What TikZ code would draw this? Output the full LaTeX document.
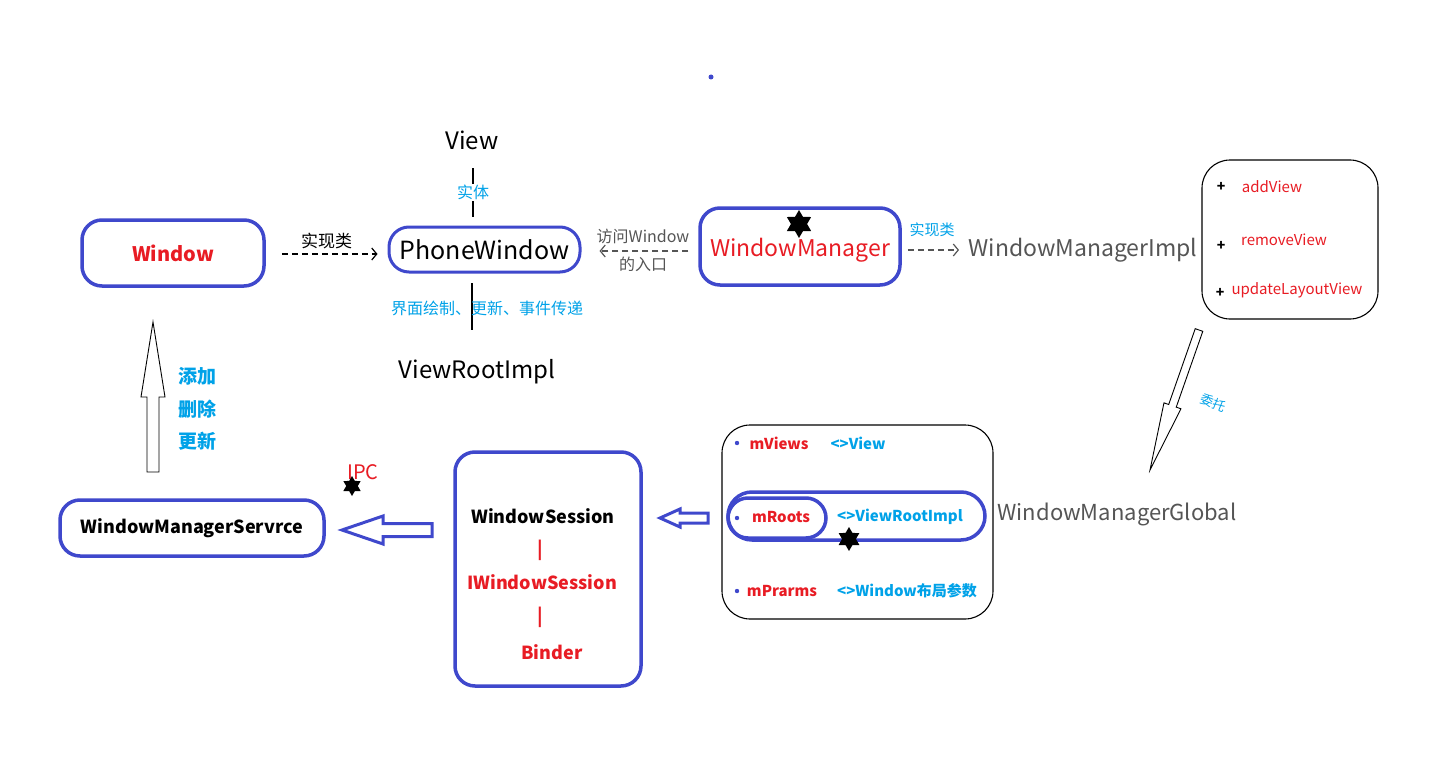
\documentclass[tikz,border=0pt]{standalone}
\usepackage{fontspec}
\setmainfont{Noto Sans CJK SC}
\usetikzlibrary{shapes.geometric,arrows.meta,calc}
\definecolor{bluec}{RGB}{63,72,204}
\definecolor{redc}{RGB}{232,28,36}
\definecolor{cyanc}{RGB}{0,162,232}
\definecolor{grayc}{RGB}{85,85,85}
\newcommand\harrow[6]{%
  \coordinate (hH) at ($(#3)!#4!(#2)$);
  \draw[#1] ($(#2)!#5!90:(#3)$) -- ($(hH)!#5!90:(#3)$) -- ($(hH)!#6!90:(#3)$) -- (#3)
    -- ($(hH)!#6!-90:(#3)$) -- ($(hH)!#5!-90:(#3)$) -- ($(#2)!#5!-90:(#3)$) -- cycle;
}
\begin{document}
\begin{tikzpicture}[x=1pt,y=-1pt,
  fs/.style={font=\fontsize{#1}{#1}\selectfont},
  fsb/.style={font=\fontsize{#1}{#1}\selectfont\bfseries},
  bbox/.style={draw=bluec, line width=3.5pt, rounded corners=20pt, inner sep=0pt},
  kbox/.style={draw=black, line width=1.1pt, rounded corners=28pt, inner sep=0pt},
  star6/.style={star, star points=6, star point ratio=1.73, fill=black, draw=none, inner sep=0pt},
  dash1/.style={dash pattern=on 6pt off 4pt, line width=1.2pt},
  barb/.style={-{Straight Barb[length=5pt,width=12pt]}},
  ring/.style={draw=bluec, line width=3.5pt, inner sep=0pt},
]
\useasboundingbox (0,0) rectangle (1438,768);
\fill[white] (0,0) rectangle (1438,768);

% blue dot
\fill[bluec] (711,77) circle (2.5pt);

% Window
\node[bbox, minimum width=182pt, minimum height=66pt, fsb=20, text=redc] (win) at (173,253) {Window};
% PhoneWindow
\node[bbox, line width=3pt, minimum width=191pt, minimum height=45pt, fs=25] (pw) at (484.5,249.5) {PhoneWindow};
\draw[dash1, barb, shorten <=16pt, shorten >=10pt] ([yshift=-1pt]win.east) -- ([yshift=-1pt]win.east -| pw.west)
  node[midway, above=1pt, fs=17, text=black] {实现类};

% View
\node[fs=24] (view) at (472,140) {View};
\coordinate (vt) at (473,168);
\coordinate (vb) at (473,217);
\draw[line width=1.2pt] (vt) -- (vb) node[midway, fill=white, text=cyanc, fs=16, inner sep=1pt] {实体};

% ViewRootImpl
\node[fs=24] (vri) at (477,372) {ViewRootImpl};
\coordinate (rt) at (472,283);
\coordinate (rb) at (472,330);
\draw[line width=1.2pt] (rt) -- (rb);
\node[text=cyanc, fs=16] (lbl1) at (487,308) {界面绘制、更新、事件传递};

% WindowManager
\node[bbox, minimum width=200pt, minimum height=77pt] (wm) at (800,246.5) {};
\node[fs=23, text=redc] (wmt) at (800,250) {WindowManager};
\node[star6, minimum size=28pt] (s1) at (799,224) {};
\draw[dash1, draw=grayc, barb, shorten <=10pt, shorten >=18pt] ([yshift=-4.5pt]wm.west) -- ([yshift=-4.5pt]wm.west -| pw.east);
\node[fs=16, text=grayc] (l2a) at (643,236) {访问Window};
\node[fs=16, text=grayc] (l2b) at (643,264) {的入口};

% WindowManagerImpl
\node[fs=23, text=grayc] (wmi) at (1083,250) {WindowManagerImpl};
\draw[dash1, draw=grayc, barb, shorten <=6pt, shorten >=6pt] (wm.east |- wmi) -- (wmi.west);
\node[fs=15, text=cyanc] (l3) at (932,230) {实现类};

% methods box
\node[kbox, minimum width=176pt, minimum height=159pt] (mbox) at (1290,239.5) {};
\node[fsb=14] (p1) at (1221,187) {+};
\node[fs=15, text=redc] (m1) at (1272,187) {addView};
\node[fsb=14] (p2) at (1221,246) {+};
\node[fs=15, text=redc] (m2) at (1284,240) {removeView};
\node[fsb=14] (p3) at (1220,293) {+};
\node[fs=15, text=redc] (m3) at (1297,290) {updateLayoutView};

% delegate arrow
\coordinate (dt) at (1199,330);
\coordinate (dh) at (1150,470);
\harrow{draw=black, line width=0.9pt, fill=white}{dt}{dh}{68pt}{4pt}{9pt}
\node[fs=13, text=cyanc, rotate=-22] (l4) at (1213,403) {委托};

% WindowManagerGlobal
\node[fs=22, text=grayc] (wmg) at (1117,514) {WindowManagerGlobal};

% global box
\node[kbox, minimum width=271pt, minimum height=194pt] (gbox) at (857.5,522) {};
\fill[bluec] (737,443) circle (2.2pt);
\node[fsb=15, text=redc] (mv) at (779,443) {mViews};
\node[fsb=15, text=cyanc] (mvv) at (858,443) {<>View};
\node[ring, rounded corners=20pt, minimum width=98pt, minimum height=40pt] (r1) at (777,518) {};
\node[ring, rounded corners=24pt, minimum width=257pt, minimum height=48pt] (r2) at (856.5,516) {};
\fill[bluec] (737,518) circle (2.2pt);
\node[fsb=15, text=redc] (mr) at (781,517) {mRoots};
\node[fsb=15, text=cyanc] (mrv) at (900,517) {<>ViewRootImpl};
\node[star6, minimum size=24pt] (s2) at (849,539) {};
\fill[bluec] (737,591) circle (2.2pt);
\node[fsb=15, text=redc] (mp) at (782,591) {mPrarms};
\node[fsb=15, text=cyanc] (mpv) at (907,591) {<>Window布局参数};

% small blue arrow
\coordinate (sa1) at (708,518);
\coordinate (sa2) at (660,518);
\harrow{draw=bluec, line width=3pt, fill=white}{sa1}{sa2}{20pt}{5pt}{9pt}

% WindowSession box
\node[bbox, minimum width=186pt, minimum height=234pt] (ws) at (548,569) {};
\node[fsb=18] (ws1) at (543,516) {WindowSession};
\node[fsb=18, text=redc] (ws2) at (540,550) {|};
\node[fsb=18, text=redc] (ws3) at (542,582) {IWindowSession};
\node[fsb=18, text=redc] (ws4) at (540,617) {|};
\node[fsb=18, text=redc] (ws5) at (552,652) {Binder};

% big blue arrow
\coordinate (ba1) at (432,530);
\coordinate (ba2) at (342,530);
\harrow{draw=bluec, line width=3pt, fill=white}{ba1}{ba2}{41pt}{6.5pt}{14pt}

% IPC
\node[fs=20, text=redc] (ipc) at (363,472) {IPC};
\node[star6, minimum size=20pt] (s3) at (352,486) {};

% WindowManagerServrce
\node[bbox, minimum width=264pt, minimum height=56pt, fsb=18] (wms) at (192,528) {WindowManagerServrce};

% up arrow
\coordinate (ua1) at (153,472);
\coordinate (ua2) at (153,322);
\harrow{draw=black, line width=0.9pt, fill=white}{ua1}{ua2}{75pt}{6pt}{12pt}
\node[fsb=19, text=cyanc] (t1) at (197,376) {添加};
\node[fsb=19, text=cyanc] (t2) at (197,409) {删除};
\node[fsb=19, text=cyanc] (t3) at (197,441) {更新};
\end{tikzpicture}
\end{document}
